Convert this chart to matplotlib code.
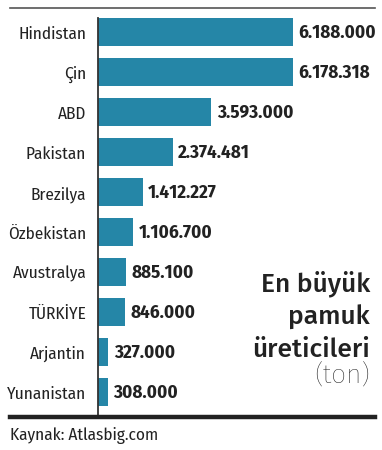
import matplotlib
matplotlib.use("Agg")
import matplotlib.pyplot as plt
from matplotlib.lines import Line2D

countries = ["Hindistan", "Çin", "ABD", "Pakistan", "Brezilya", "Özbekistan",
             "Avustralya", "TÜRKİYE", "Arjantin", "Yunanistan"]
values = [6188000, 6178318, 3593000, 2374481, 1412227, 1106700,
          885100, 846000, 327000, 308000]
value_labels = ["6.188.000", "6.178.318", "3.593.000", "2.374.481", "1.412.227",
                "1.106.700", "885.100", "846.000", "327.000", "308.000"]
title_lines = ["En büyük", "pamuk", "üreticileri"]
unit_text = "(ton)"
source_text = "Kaynak: Atlasbig.com"

W, H = 382, 450
fig = plt.figure(figsize=(W / 100, H / 100), dpi=100)
fig.patch.set_facecolor("white")

px_per_unit = 195 / 6188000
xmax = 8.7e6
ax_left_px = 98
ax_w_px = xmax * px_per_unit
ytop, ybot = -0.37, 9.6
ax_top_px = 32.5 + ytop * 40
ax_h_px = (ybot - ytop) * 40
ax = fig.add_axes([ax_left_px / W, 1 - (ax_top_px + ax_h_px) / H, ax_w_px / W, ax_h_px / H])

label_font = ["Fira Sans Condensed", "DejaVu Sans"]
value_font = ["Fira Sans Condensed", "DejaVu Sans"]
title_font = ["Fira Sans", "DejaVu Sans"]

ypos = list(range(len(countries)))
ax.barh(ypos, values, height=0.7, color="#2586a7", zorder=2)
ax.set_xlim(0, xmax)
ax.set_ylim(ybot, ytop)
for s in ["top", "right", "bottom"]:
    ax.spines[s].set_visible(False)
ax.spines["left"].set_color("#333333")
ax.spines["left"].set_linewidth(1.3)
ax.set_xticks([])
ax.set_yticks(ypos)
ax.set_yticklabels(countries, family=label_font, fontsize=12.4, color="#222222")
ax.tick_params(axis="y", length=0, pad=8.5)
ax.patch.set_alpha(0)

for y, v, lab in zip(ypos, values, value_labels):
    ax.annotate(lab, (v, y), xytext=(4.0, 0), textcoords="offset points",
                va="center", ha="left", family=value_font, fontweight="bold",
                fontsize=13.6, color="#222222")

baselines = [291, 325, 357]
for line, b in zip(title_lines, baselines):
    fig.text(370 / W, 1 - b / H, line, ha="right", va="baseline",
             family=title_font, fontweight="medium", fontsize=19, color="#222222")
fig.text(370 / W, 1 - 384 / H, unit_text, ha="right", va="baseline",
         family=title_font, fontweight="light", fontsize=19, color="#222222")

fig.add_artist(Line2D([10 / W, 375 / W], [1 - 8 / H, 1 - 8 / H],
                      color="#555555", linewidth=1.2, transform=fig.transFigure))
fig.add_artist(Line2D([10 / W, 375 / W], [1 - 417 / H, 1 - 417 / H],
                      color="#222222", linewidth=3.2, transform=fig.transFigure))

fig.text(10 / W, 1 - 440 / H, source_text, ha="left", va="baseline",
         family=label_font, fontsize=12.4, color="#222222")

fig.savefig("out.png", dpi=100, facecolor="white")
